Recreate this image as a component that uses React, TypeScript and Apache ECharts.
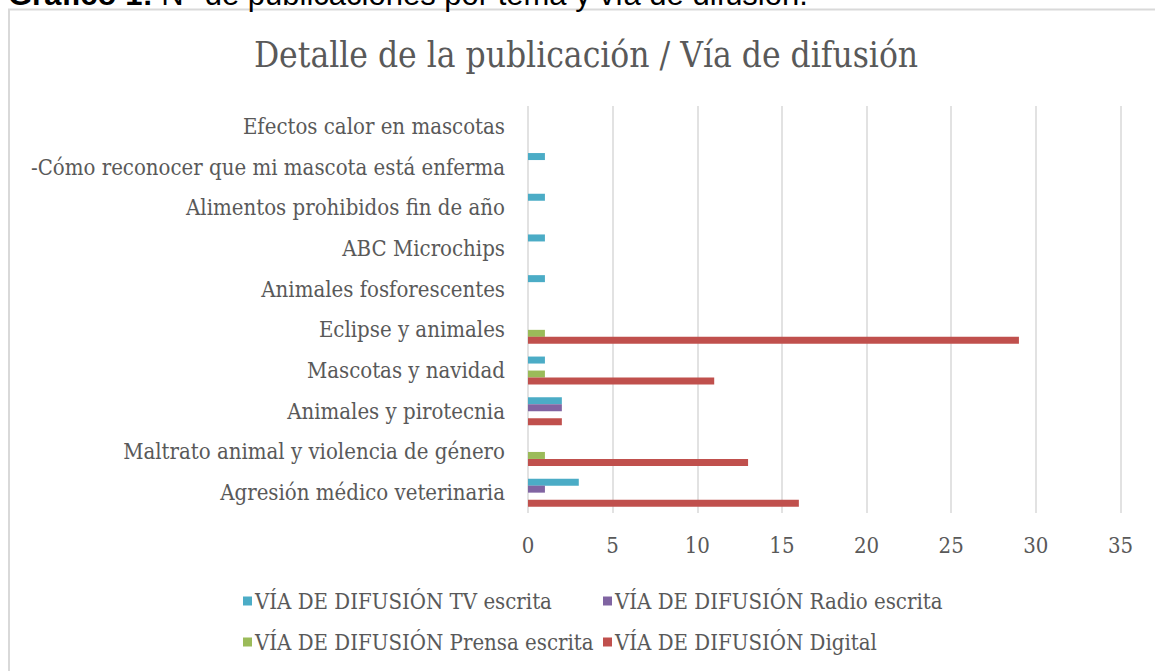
import React, { useEffect, useRef } from "react";
import * as echarts from "echarts";

const categories = [
  "Agresión médico veterinaria",
  "Maltrato animal y violencia de género",
  "Animales y pirotecnia",
  "Mascotas y navidad",
  "Eclipse y animales",
  "Animales fosforescentes",
  "ABC Microchips",
  "Alimentos prohibidos fin de año",
  "-Cómo reconocer que mi mascota está enferma",
  "Efectos calor en mascotas",
];

const seriesNames = [
  "VÍA DE DIFUSIÓN TV escrita",
  "VÍA DE DIFUSIÓN Radio escrita",
  "VÍA DE DIFUSIÓN Prensa escrita",
  "VÍA DE DIFUSIÓN Digital",
];

const tvValues = [3, 0, 2, 1, 0, 1, 1, 1, 1, 0];
const radioValues = [1, 0, 2, 0, 0, 0, 0, 0, 0, 0];
const prensaValues = [0, 1, 0, 1, 1, 0, 0, 0, 0, 0];
const digitalValues = [16, 13, 2, 11, 29, 0, 0, 0, 0, 0];

const xTicks = { min: 0, max: 35, interval: 5 };

const colors = ["#4BACC6", "#8064A2", "#9BBB59", "#C0504D"];

const FONT = "'DejaVu Serif Condensed', 'DejaVu Serif', serif";
const TEXT = "#595959";

export default function App() {
  const ref = useRef<HTMLDivElement>(null);
  useEffect(() => {
    if (!ref.current) return;
    const chart = echarts.init(ref.current, null, { renderer: "svg" });
    const values = [tvValues, radioValues, prensaValues, digitalValues];
    const legendText = { fontFamily: FONT, fontSize: 22, color: TEXT, lineHeight: 26, padding: [0, 0, 0, -2] };
    chart.setOption({
      animation: false,
      backgroundColor: "#ffffff",
      graphic: [
        {
          type: "rect",
          z: -10,
          shape: { x: 9, y: 9.5, width: 1300, height: 800 },
          style: { fill: "none", stroke: "#D9D9D9", lineWidth: 2 },
        },
        {
          type: "text",
          x: 8,
          y: 10,
          style: {
            text: "{b|Gráfico 1:} N° de publicaciones por tema y vía de difusión.",
            font: "31px 'Liberation Sans', Arial, sans-serif",
            fill: "#000",
            textVerticalAlign: "bottom",
            rich: {
              b: { fontWeight: "bold", fontSize: 31, fontFamily: "'Liberation Sans', Arial, sans-serif", fill: "#000" },
            },
          },
        },
        {
          type: "text",
          x: 586,
          y: 55,
          style: {
            text: "Detalle de la publicación / Vía de difusión",
            font: `35px ${FONT}`,
            fill: TEXT,
            textAlign: "center",
            textVerticalAlign: "middle",
          },
        },
      ],
      legend: [
        {
          left: 238,
          top: 583,
          orient: "vertical",
          itemGap: 15,
          itemWidth: 9,
          itemHeight: 9,
          icon: "rect",
          data: [seriesNames[0], seriesNames[2]],
          textStyle: legendText,
        },
        {
          left: 598,
          top: 583,
          orient: "vertical",
          itemGap: 15,
          itemWidth: 9,
          itemHeight: 9,
          icon: "rect",
          data: [seriesNames[1], seriesNames[3]],
          textStyle: legendText,
        },
      ],
      grid: { left: 528, right: 1155 - 1120.5, top: 106, bottom: 671 - 513, containLabel: false },
      xAxis: {
        type: "value",
        min: xTicks.min,
        max: xTicks.max,
        interval: xTicks.interval,
        axisLine: { show: false },
        axisTick: { show: false },
        splitLine: { lineStyle: { color: "#D9D9D9", width: 1.5 } },
        axisLabel: { fontFamily: FONT, fontSize: 22, color: TEXT, margin: 21 },
      },
      yAxis: {
        type: "category",
        data: categories,
        axisLine: { show: false },
        axisTick: { show: false },
        axisLabel: { fontFamily: FONT, fontSize: 22, color: TEXT, margin: 23 },
      },
      series: seriesNames.map((name, i) => ({
        name,
        type: "bar",
        data: values[i],
        barWidth: 7,
        barGap: "0%",
        itemStyle: { color: colors[i] },
      })),
    });
    return () => chart.dispose();
  }, []);
  return (
    <div
      ref={ref}
      style={{ position: "fixed", left: 0, top: 0, width: 1155, height: 671 }}
    />
  );
}
